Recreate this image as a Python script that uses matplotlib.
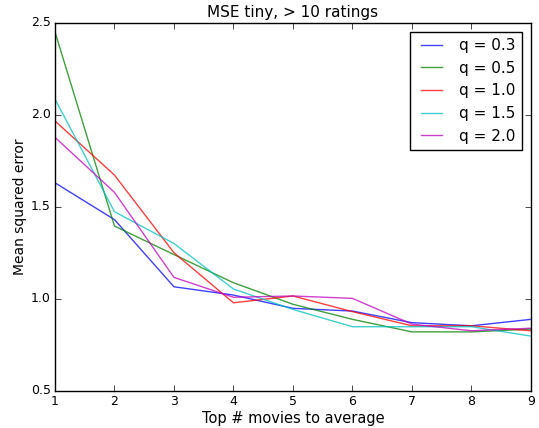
import matplotlib
matplotlib.use("Agg")
import matplotlib.pyplot as plt

plt.style.use("classic")

top_n = [1, 2, 3, 4, 5, 6, 7, 8, 9]
mse_q03 = [1.63, 1.43, 1.065, 1.02, 0.948, 0.933, 0.87, 0.853, 0.888]
mse_q05 = [2.45, 1.395, 1.24, 1.087, 0.97, 0.888, 0.82, 0.82, 0.835]
mse_q10 = [1.966, 1.672, 1.25, 0.978, 1.015, 0.93, 0.853, 0.853, 0.826]
mse_q15 = [2.085, 1.473, 1.30, 1.053, 0.942, 0.848, 0.848, 0.848, 0.797]
mse_q20 = [1.877, 1.578, 1.116, 1.008, 1.015, 1.002, 0.862, 0.826, 0.84]

series = [
    ("q = 0.3", mse_q03, "b"),
    ("q = 0.5", mse_q05, "g"),
    ("q = 1.0", mse_q10, "r"),
    ("q = 1.5", mse_q15, "c"),
    ("q = 2.0", mse_q20, "m"),
]

fig = plt.figure(figsize=(5.39, 4.28), dpi=100, facecolor="white")
ax = fig.add_axes([0.102, 0.087, 0.883, 0.86])

for label, vals, color in series:
    ax.plot(top_n, vals, color=color, lw=1.0, alpha=0.75, label=label)

ax.set_xlim(1, 9)
ax.set_ylim(0.5, 2.5)
ax.set_xticks(top_n)
ax.set_yticks([0.5, 1.0, 1.5, 2.0, 2.5])
ax.tick_params(labelsize=9, pad=3)
ax.set_title("MSE tiny, > 10 ratings", fontsize=11, pad=4)
ax.set_xlabel("Top # movies to average", fontsize=10.5, labelpad=2)
ax.set_ylabel("Mean squared error", fontsize=10, labelpad=3)
ax.legend(loc="upper right", fontsize=11, handlelength=2.0, borderaxespad=0.6)

fig.savefig("out.png", dpi=100, facecolor="white")
